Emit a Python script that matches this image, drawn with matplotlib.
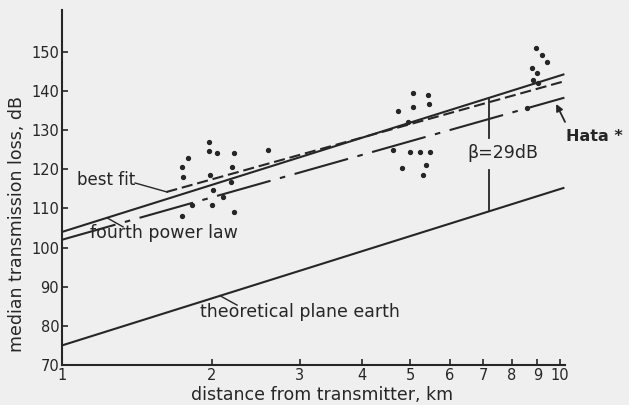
import matplotlib
matplotlib.use("Agg")
import matplotlib.pyplot as plt
from matplotlib.ticker import NullLocator, FixedLocator, FixedFormatter

plt.rcParams["lines.scale_dashes"] = False
plt.rcParams["font.family"] = ["DejaVu Sans"]

# ---------------- data ----------------
dist_ticks = [1, 2, 3, 4, 5, 6, 7, 8, 9, 10]
dist_labels = ["1", "2", "3", "4", "5", "6", "7", "8", "9", "10"]
loss_ticks = [70, 80, 90, 100, 110, 120, 130, 140, 150]

plane_d = [1.0, 10.2]
plane_loss = [75.0, 115.3]
fourth_d = [1.0, 10.2]
fourth_loss = [104.0, 144.3]
best_d = [1.62, 10.2]
best_loss = [114.2, 142.5]
hata_d = [1.0, 10.2]
hata_loss = [102.0, 138.3]

meas_d = [1.97, 1.97, 2.05, 2.21, 1.79, 1.74, 1.75, 2.19, 2.59, 1.98, 2.18,
          2.01, 2.00, 1.74, 2.21, 2.10, 1.82,
          5.07, 5.43, 5.46, 5.07, 4.73, 4.95, 5.00, 5.24, 5.48, 4.62, 5.38,
          5.31, 4.82,
          8.95, 9.20, 9.42, 8.78, 8.99, 8.83, 9.03, 8.59]
meas_loss = [127.0, 124.7, 124.2, 124.2, 122.9, 120.6, 118.1, 120.6, 125.0,
             118.6, 116.8, 114.7, 110.9, 108.1, 109.1, 112.9, 110.9,
             139.5, 139.0, 136.7, 135.9, 134.9, 132.1, 124.4, 124.4, 124.4,
             125.0, 121.1, 118.6, 120.4,
             151.0, 149.2, 147.4, 145.9, 144.6, 142.8, 142.1, 135.7]

beta_d = 7.2
beta_top = 138.3
beta_bottom = 109.3
beta_gap = [128.0, 119.8]

# ---------------- drawing ----------------
ink = "#262626"
bg = "#efefef"

fig = plt.figure(figsize=(6.29, 4.05), dpi=100)
fig.patch.set_facecolor(bg)
ax = fig.add_axes([0.0986, 0.0988, 0.7997, 0.8765])
ax.set_facecolor("none")
ax.set_xscale("log")
ax.set_xlim(1, 10.23)
ax.set_ylim(70, 160.7)

for s in ["top", "right"]:
    ax.spines[s].set_visible(False)
for s in ["left", "bottom"]:
    ax.spines[s].set_linewidth(1.5)
    ax.spines[s].set_color(ink)

ax.xaxis.set_major_locator(FixedLocator(dist_ticks))
ax.xaxis.set_major_formatter(FixedFormatter(dist_labels))
ax.xaxis.set_minor_locator(NullLocator())
ax.set_yticks(loss_ticks)
ax.tick_params(axis="both", direction="in", length=4, width=1.2,
               labelsize=10.5, pad=2, colors=ink)

lw = 1.5
ax.plot(plane_d, plane_loss, color=ink, lw=lw, solid_capstyle="butt")
ax.plot(fourth_d, fourth_loss, color=ink, lw=lw, solid_capstyle="butt")
ax.plot(best_d, best_loss, color=ink, lw=lw, dashes=(8, 3.5))
ax.plot(hata_d, hata_loss, color=ink, lw=lw, dashes=(40, 7, 4, 7))

ax.plot(meas_d, meas_loss, linestyle="none", marker="o", markersize=2.8,
        color=ink)

# beta marker
ax.plot([beta_d, beta_d], [beta_top, beta_gap[0]], color=ink, lw=1.3)
ax.plot([beta_d, beta_d], [beta_gap[1], beta_bottom], color=ink, lw=1.3)
ax.text(6.5, 124.2, "β=29dB", ha="left", va="center", fontsize=12.5,
        color=ink)

# labels with pointers
ax.text(1.072, 117.3, "best fit", ha="left", va="center", fontsize=12,
        color=ink)
ax.plot([1.402, 1.625], [116.5, 114.2], color=ink, lw=1.0)

ax.text(1.138, 103.7, "fourth power law", ha="left", va="center",
        fontsize=12.5, color=ink)
ax.plot([1.326, 1.231], [105.3, 107.6], color=ink, lw=1.0)

ax.text(1.893, 83.5, "theoretical plane earth", ha="left", va="center",
        fontsize=12.5, color=ink)
ax.plot([2.246, 2.075], [85.3, 87.7], color=ink, lw=1.0)

ax.annotate("", xy=(9.82, 136.7), xytext=(10.23, 132.1),
            arrowprops=dict(arrowstyle="-|>", lw=1.3, color=ink,
                            mutation_scale=10, shrinkA=0, shrinkB=0),
            annotation_clip=False)
ax.text(10.28, 128.3, "Hata *", ha="left", va="center", fontsize=11.5,
        fontweight="bold", color=ink, clip_on=False)

ax.set_xlabel("distance from transmitter, km", fontsize=12.5, color=ink)
ax.xaxis.set_label_coords(0.516, -0.0845)
ax.xaxis.label.set_va("center")
ax.set_ylabel("median transmission loss, dB", fontsize=12.5, color=ink)
ax.yaxis.set_label_coords(-0.0895, 0.397)
ax.yaxis.label.set_va("center")

fig.savefig("out.png", dpi=100, facecolor=fig.get_facecolor())
